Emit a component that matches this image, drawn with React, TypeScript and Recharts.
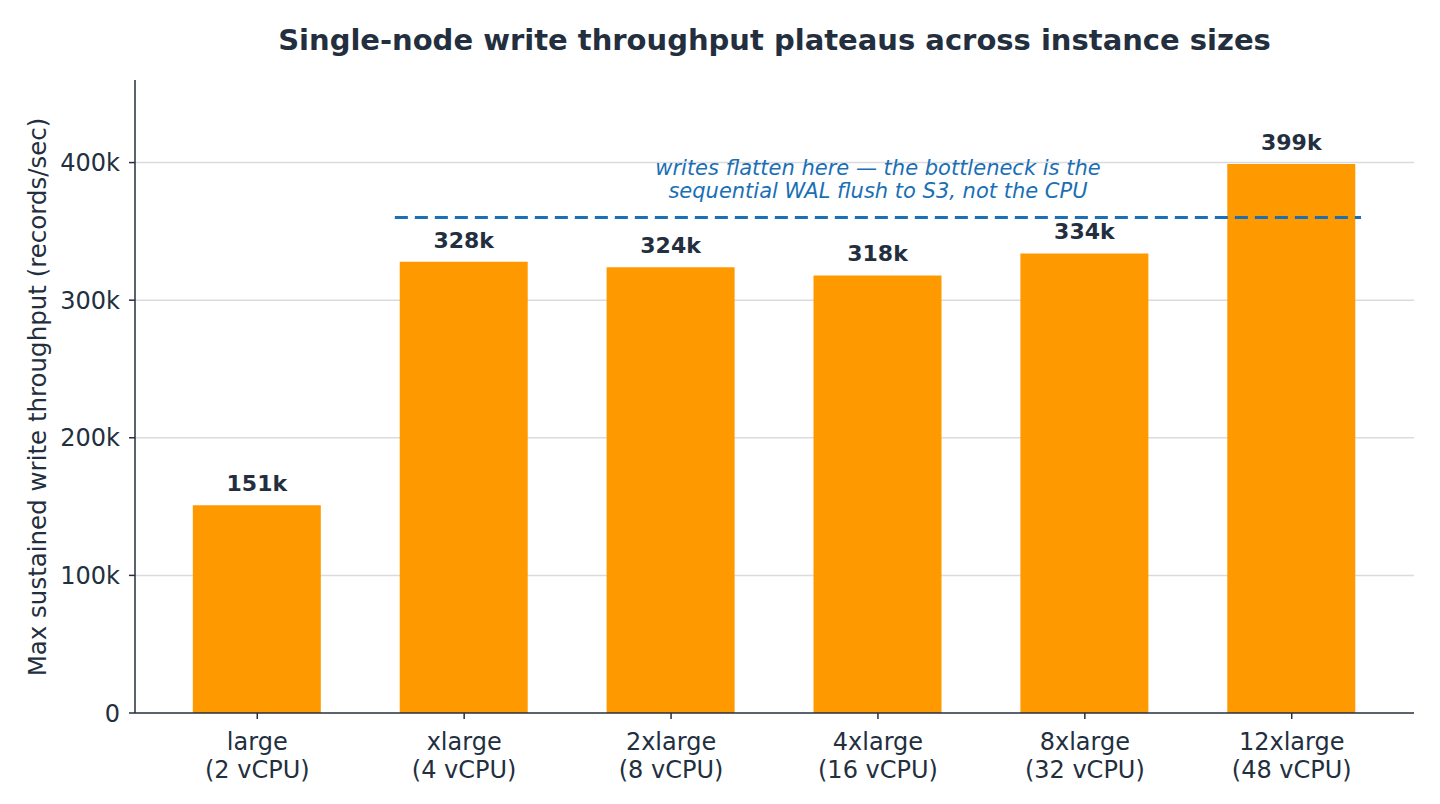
import { BarChart, Bar, XAxis, YAxis, CartesianGrid, LabelList, ReferenceLine, Label } from 'recharts';

const sizes = ['large', 'xlarge', '2xlarge', '4xlarge', '8xlarge', '12xlarge'];
const vcpus = ['2 vCPU', '4 vCPU', '8 vCPU', '16 vCPU', '32 vCPU', '48 vCPU'];
const throughput = [151000, 328000, 324000, 318000, 334000, 399000];
const yTicks = [0, 100000, 200000, 300000, 400000];
const gridLevels = [100000, 200000, 300000, 400000];
const plateauLevel = 360000;
const plateauFrom = 0.665;
const plateauTo = 5.335;

const INK = '#232F3E';
const ORANGE = '#FF9900';
const BLUE = '#1A6FB5';
const FONT = '"DejaVu Sans", sans-serif';

const data = throughput.map((v, i) => ({ idx: i, value: v }));

const SizeTick = (props: any) => {
  const { x, y, payload } = props;
  const i = payload.value;
  return (
    <text x={x} y={y} textAnchor="middle" fill={INK} fontSize={24} fontFamily={FONT}>
      <tspan x={x} dy={29}>{sizes[i]}</tspan>
      <tspan x={x} dy={28}>({vcpus[i]})</tspan>
    </text>
  );
};

const Note = (props: any) => {
  const vb = props.viewBox || {};
  const cx = vb.x + (vb.width || 0) / 2;
  return (
    <text textAnchor="middle" fill={BLUE} fontSize={21} fontStyle="italic" fontFamily={FONT}>
      <tspan x={cx} y={vb.y - 43}>writes flatten here — the bottleneck is the</tspan>
      <tspan x={cx} y={vb.y - 20}>sequential WAL flush to S3, not the CPU</tspan>
    </text>
  );
};

const YTitle = () => (
  <text
    x={37}
    y={397}
    transform="rotate(-90 37 397)"
    textAnchor="middle"
    dominantBaseline="central"
    fill={INK}
    fontSize={24.5}
    fontFamily={FONT}
  >
    Max sustained write throughput (records/sec)
  </text>
);

export default function App() {
  return (
    <div style={{ position: 'absolute', left: 0, top: 0, width: 1440, height: 804, background: '#fff', fontFamily: FONT }}>
      <div
        style={{
          position: 'absolute',
          left: 135,
          width: 1279,
          top: 22,
          textAlign: 'center',
          fontSize: 29,
          fontWeight: 'bold',
          color: INK,
          lineHeight: '36px',
        }}
      >
        Single-node write throughput plateaus across instance sizes
      </div>
      <BarChart width={1440} height={804} data={data} margin={{ top: 80, right: 26, bottom: 0, left: 60 }}>
        <CartesianGrid vertical={false} horizontalValues={gridLevels} stroke="#D9DCDF" strokeWidth={1.5} />
        <XAxis
          dataKey="idx"
          type="number"
          domain={[-0.591, 5.591]}
          ticks={[0, 1, 2, 3, 4, 5]}
          allowDataOverflow
          tick={<SizeTick />}
          tickSize={6}
          stroke={INK}
          strokeWidth={1.5}
          height={91}
        />
        <YAxis
          domain={[0, 460000]}
          ticks={yTicks}
          tickFormatter={(v: number) => (v === 0 ? '0' : `${v / 1000}k`)}
          tick={{ fill: INK, fontSize: 24, fontFamily: FONT }}
          tickSize={6}
          tickMargin={9}
          stroke={INK}
          strokeWidth={1.5}
          width={75}
        >
          <Label content={<YTitle />} />
        </YAxis>
        <Bar dataKey="value" fill={ORANGE} barSize={128} isAnimationActive={false}>
          <LabelList
            dataKey="value"
            position="top"
            offset={14}
            formatter={(v: any) => `${Math.round(Number(v) / 1000)}k`}
            style={{ fill: INK, fontSize: 22, fontWeight: 'bold', fontFamily: FONT }}
          />
        </Bar>
        <ReferenceLine
          segment={[
            { x: plateauFrom, y: plateauLevel },
            { x: plateauTo, y: plateauLevel },
          ]}
          stroke={BLUE}
          strokeWidth={3}
          strokeDasharray="13 7"
        >
          <Label content={<Note />} />
        </ReferenceLine>
      </BarChart>
    </div>
  );
}
